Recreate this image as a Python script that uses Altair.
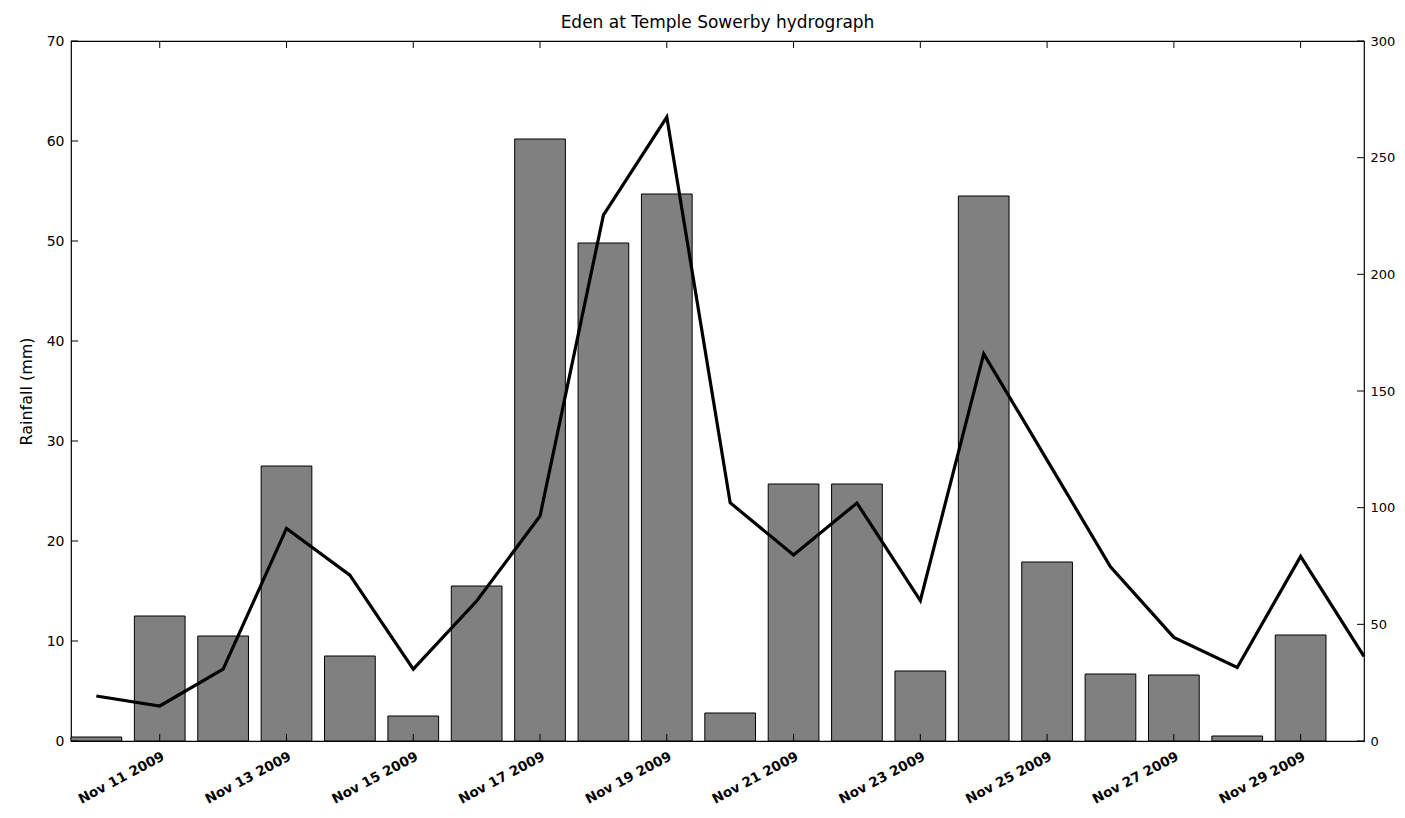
import altair as alt
import pandas as pd

# ---- data ----
rain_dates = ["2009-11-10", "2009-11-11", "2009-11-12", "2009-11-13", "2009-11-14",
              "2009-11-15", "2009-11-16", "2009-11-17", "2009-11-18", "2009-11-19",
              "2009-11-20", "2009-11-21", "2009-11-22", "2009-11-23", "2009-11-24",
              "2009-11-25", "2009-11-26", "2009-11-27", "2009-11-28", "2009-11-29"]
rainfall_mm = [0.4, 12.5, 10.5, 27.5, 8.5, 2.5, 15.5, 60.2, 49.8, 54.7,
               2.8, 25.7, 25.7, 7.0, 54.5, 17.9, 6.7, 6.6, 0.5, 10.6]

flow_dates = rain_dates + ["2009-11-30"]
flow = [19.3, 15.0, 30.8, 91.1, 71.1, 30.8, 60.0, 96.4, 225.4, 267.4,
        102.1, 79.7, 102.0, 60.2, 165.9, 120.4, 74.7, 44.4, 31.5, 79.1, 36.3]

x_tick_dates = rain_dates[1::2]          # Nov 11, 13, ..., 29
rain_ticks = [0, 10, 20, 30, 40, 50, 60, 70]
flow_ticks = [0, 50, 100, 150, 200, 250, 300]

title_text = "Eden at Temple Sowerby hydrograph"
y_title = "Rainfall (mm)"

# ---- tables ----
rain_df = pd.DataFrame({"date": rain_dates, "rain": rainfall_mm})
flow_df = pd.DataFrame({"date": flow_dates, "flow": flow})
xt_df = pd.DataFrame({"date": x_tick_dates})
rt_df = pd.DataFrame({"value": rain_ticks})
ft_df = pd.DataFrame({"value": flow_ticks})

W, H = 1293, 700
FONT = "DejaVu Sans"
DAY = 86400000


def utc_ms(s):
    return int(pd.Timestamp(s, tz="UTC").timestamp() * 1000)


x_domain = [utc_ms(rain_dates[0]) - int(0.4 * DAY), utc_ms(flow_dates[-1])]
x_scale = alt.Scale(type="utc", domain=x_domain, nice=False)
x_values = [utc_ms(d) for d in x_tick_dates]

x_axis = alt.Axis(
    values=x_values, labelExpr="utcFormat(datum.value, '%b %d %Y')",
    labelAngle=-28, labelAlign="right", labelBaseline="top",
    labelFont=FONT, labelFontSize=13.5, labelFontWeight="bold", labelColor="black",
    labelPadding=8, ticks=False, domain=False, grid=False, title=None,
    labelOverlap=False, labelBound=False, labelFlush=False,
)

bars = alt.Chart(rain_df).transform_calculate(
    t0="toDate(datum.date) - 0.4 * 86400000",
    t1="toDate(datum.date) + 0.4 * 86400000",
).mark_bar(color="#808080", stroke="black", strokeWidth=1).encode(
    x=alt.X("t0:T", scale=x_scale, axis=x_axis),
    x2="t1:T",
    y=alt.Y("rain:Q", scale=alt.Scale(domain=[0, 70], nice=False),
            axis=alt.Axis(values=rain_ticks, orient="left", title=y_title,
                          titleFont=FONT, titleFontSize=16, titleFontWeight="normal",
                          titleColor="black", titlePadding=12,
                          labelFont=FONT, labelFontSize=14, labelColor="black",
                          labelPadding=7, ticks=False, domain=False, grid=False)),
    y2=alt.datum(0),
)

line = alt.Chart(flow_df).mark_line(color="black", strokeWidth=3.2).encode(
    x=alt.X("date:T", scale=x_scale, axis=x_axis),
    y=alt.Y("flow:Q", scale=alt.Scale(domain=[0, 300], nice=False),
            axis=alt.Axis(values=flow_ticks, orient="right", title=None,
                          labelFont=FONT, labelFontSize=13, labelColor="black",
                          labelPadding=6, ticks=False, domain=False, grid=False)),
)

left_ticks = alt.Chart(rt_df).mark_rule(color="black", strokeWidth=1).encode(
    y=alt.Y("value:Q", scale=alt.Scale(domain=[0, 70], nice=False), axis=None),
    x=alt.value(0), x2=alt.value(7),
)
right_ticks = alt.Chart(ft_df).mark_rule(color="black", strokeWidth=1).encode(
    y=alt.Y("value:Q", scale=alt.Scale(domain=[0, 300], nice=False), axis=None),
    x=alt.value(W), x2=alt.value(W - 7),
)
top_ticks = alt.Chart(xt_df).mark_rule(color="black", strokeWidth=1).encode(
    x=alt.X("date:T", scale=x_scale, axis=x_axis),
    y=alt.value(0), y2=alt.value(7),
)
bottom_ticks = alt.Chart(xt_df).mark_rule(color="black", strokeWidth=1).encode(
    x=alt.X("date:T", scale=x_scale, axis=x_axis),
    y=alt.value(H), y2=alt.value(H - 7),
)

chart = alt.layer(
    bars, line, left_ticks, right_ticks, top_ticks, bottom_ticks
).resolve_scale(y="independent").properties(
    width=W, height=H,
    title=alt.Title(title_text, font=FONT, fontSize=17, fontWeight="normal",
                    color="black", offset=2, anchor="middle"),
    autosize=alt.AutoSizeParams(type="none"),
    padding={"left": 63, "top": 33, "right": 33, "bottom": 68},
    background="white",
).configure_view(stroke="black", strokeWidth=1.2)

chart.save("out.html", embed_options={"renderer": "svg", "actions": False})
